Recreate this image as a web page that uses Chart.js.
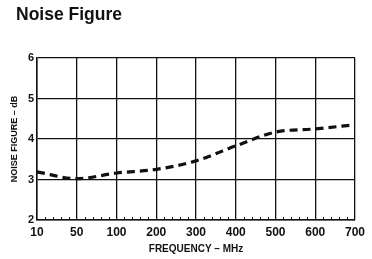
<!DOCTYPE html>
<html>
<head>
<meta charset="utf-8">
<script src="https://cdn.jsdelivr.net/npm/chart.js@4.4.0/dist/chart.umd.min.js"></script>
<style>
html,body{margin:0;padding:0;background:#fff;}
#c{display:block;}
</style>
</head>
<body>
<canvas id="c" width="372" height="259"></canvas>
<script>
const titleText = 'Noise Figure';
const categories = ['10', '50', '100', '200', '300', '400', '500', '600', '700'];
const noiseFigure = [3.19, 3.02, 3.16, 3.25, 3.46, 3.83, 4.17, 4.25, 4.35];
const yTicks = [2, 3, 4, 5, 6];
const xAxisLabel = 'FREQUENCY – MHz';
const yAxisLabel = 'NOISE FIGURE – dB';
const minorPerInterval = 5;

const FONT = "'Liberation Sans Narrow', 'Arial Narrow', 'Liberation Sans', Arial, sans-serif";
const INK = '#111';

const titlePlugin = {
  id: 'topTitle',
  afterDraw(chart) {
    const ctx = chart.ctx;
    ctx.save();
    ctx.fillStyle = INK;
    ctx.font = "bold 17.5px 'Liberation Sans', Arial, sans-serif";
    ctx.textBaseline = 'alphabetic';
    ctx.textAlign = 'left';
    ctx.fillText(titleText, 16, 20);
    ctx.restore();
  }
};

const minorTicksPlugin = {
  id: 'minorTicks',
  afterDraw(chart) {
    const ctx = chart.ctx;
    const xs = chart.scales.x;
    const bottom = chart.chartArea.bottom;
    ctx.save();
    ctx.strokeStyle = INK;
    ctx.lineWidth = 1;
    for (let i = 0; i < categories.length - 1; i++) {
      const a = xs.getPixelForValue(i), b = xs.getPixelForValue(i + 1);
      for (let k = 1; k < minorPerInterval; k++) {
        const px = Math.round(a + (b - a) * k / minorPerInterval) + 0.5;
        ctx.beginPath();
        ctx.moveTo(px, bottom);
        ctx.lineTo(px, bottom - 3);
        ctx.stroke();
      }
    }
    ctx.restore();
  }
};

const bgPlugin = {
  id: 'bg',
  beforeDraw(chart) {
    const ctx = chart.ctx;
    ctx.save();
    ctx.fillStyle = '#fff';
    ctx.fillRect(0, 0, chart.width, chart.height);
    ctx.restore();
  }
};

new Chart(document.getElementById('c'), {
  type: 'line',
  data: {
    labels: categories,
    datasets: [{
      data: noiseFigure,
      borderColor: INK,
      borderWidth: 3.2,
      borderDash: [8, 5],
      pointRadius: 0,
      fill: false,
      cubicInterpolationMode: 'monotone'
    }]
  },
  options: {
    responsive: false,
    animation: false,
    layout: { padding: { left: 9, top: 58, right: 17, bottom: 4 } },
    plugins: { legend: { display: false }, title: { display: false }, tooltip: { enabled: false } },
    scales: {
      x: {
        type: 'category',
        offset: false,
        grid: { color: INK, lineWidth: 1.3, drawTicks: false },
        border: { color: INK, width: 1.5 },
        ticks: { color: INK, padding: 5, maxRotation: 0, autoSkip: false, font: { family: FONT, size: 12, weight: 'bold' } },
        title: { display: true, text: xAxisLabel, color: INK, padding: { top: 1, bottom: 0 }, font: { family: FONT, size: 10, weight: 'bold' } },
        afterFit(scale) { scale.height = 35; }
      },
      y: {
        min: 2, max: 6,
        afterBuildTicks(scale) { scale.ticks = yTicks.map(v => ({ value: v })); },
        grid: { color: INK, lineWidth: 1.3, drawTicks: false },
        border: { color: INK, width: 1.5 },
        ticks: { color: INK, padding: 3, font: { family: FONT, size: 11, weight: 'bold' } },
        title: { display: true, text: yAxisLabel, color: INK, padding: { top: 0, bottom: 4 }, font: { family: FONT, size: 9, weight: 'bold' } },
        afterFit(scale) { scale.width = 28; }
      }
    }
  },
  plugins: [bgPlugin, titlePlugin, minorTicksPlugin]
});
</script>
</body>
</html>
